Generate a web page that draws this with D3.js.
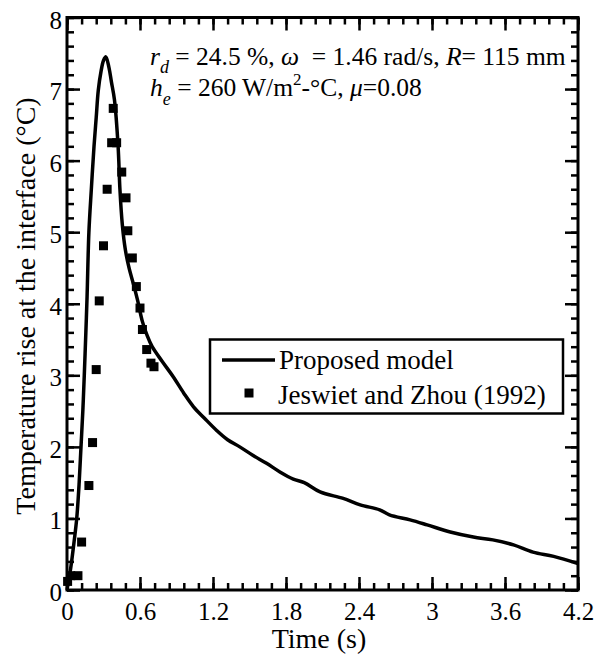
<!DOCTYPE html>
<html>
<head>
<meta charset="utf-8">
<script src="https://cdn.jsdelivr.net/npm/d3@7"></script>
<style>
  body { margin: 0; background: #fff; }
  svg text { font-family: "Liberation Serif", "Times New Roman", serif; fill: #000; white-space: pre; }
</style>
</head>
<body>
<svg id="chart" width="599" height="661"></svg>
<script>
// Proposed model curve (time in s, temperature rise in degC)
const modelTime = [0, 0.03, 0.06, 0.08, 0.10, 0.115, 0.13, 0.142, 0.155, 0.165, 0.18, 0.20, 0.222, 0.24, 0.257, 0.28, 0.30, 0.32,
    0.345, 0.365, 0.39, 0.42, 0.435, 0.455, 0.48, 0.51, 0.55, 0.58, 0.62, 0.66, 0.70, 0.78, 0.873, 0.96, 1.04, 1.13, 1.23,
    1.32, 1.42, 1.53, 1.64, 1.75, 1.86, 1.95, 2.08, 2.27, 2.41, 2.57, 2.65, 2.82, 2.96, 3.15, 3.34, 3.5, 3.67, 3.83, 4.0, 4.2];
const modelTemp = [0, 0.3, 0.7, 1.0, 1.5, 2.0, 2.5, 3.0, 3.6, 4.1, 5.0, 5.6, 6.2, 6.6, 6.98, 7.25, 7.4, 7.45,
    7.3, 7.1, 6.85, 6.2, 5.6, 5.1, 4.75, 4.5, 4.25, 4.05, 3.75, 3.55, 3.4, 3.2, 2.98, 2.75, 2.56, 2.4, 2.23,
    2.1, 2.0, 1.88, 1.77, 1.65, 1.55, 1.5, 1.37, 1.28, 1.19, 1.12, 1.05, 0.98, 0.91, 0.81, 0.74, 0.70, 0.63, 0.53, 0.47, 0.37];

// Jeswiet and Zhou (1992) measurements
const expTime = [0.005, 0.03, 0.09, 0.12, 0.18, 0.21, 0.24, 0.265, 0.30, 0.33, 0.367, 0.38, 0.408, 0.45, 0.485, 0.50,
    0.537, 0.57, 0.60, 0.62, 0.655, 0.69, 0.715];
const expTemp = [0.12, 0.2, 0.2, 0.67, 1.46, 2.06, 3.08, 4.04, 4.81, 5.6, 6.25, 6.73, 6.25, 5.84, 5.48, 5.02,
    4.64, 4.24, 3.94, 3.64, 3.36, 3.17, 3.12];

const xTicks = [0, 0.6, 1.2, 1.8, 2.4, 3, 3.6, 4.2];
const yTicks = [0, 1, 2, 3, 4, 5, 6, 7, 8];

const svg = d3.select('#chart');

const plotLeft = 67, plotRight = 578, plotTop = 17.5, plotBottom = 590;

const x = d3.scaleLinear().domain([0, 4.2]).range([plotLeft, plotRight]);
const y = d3.scaleLinear().domain([0, 8]).range([plotBottom, plotTop]);

const xMinor = d3.range(0, 36).map(i => i * 0.12);
const yMinor = d3.range(0, 41).map(i => i * 0.2);

const major = 13, minor = 7;

function styleAxis(g) {
    g.select('.domain').remove();
    g.selectAll('.tick line').attr('stroke', '#000').attr('stroke-width', 2.5);
}

// bottom
svg.append('g').attr('transform', `translate(0,${plotBottom})`)
    .call(d3.axisBottom(x).tickValues(xMinor).tickSize(-minor).tickFormat(''))
    .call(styleAxis);
svg.append('g').attr('transform', `translate(0,${plotBottom})`)
    .call(d3.axisBottom(x).tickValues(xTicks).tickSize(-major).tickPadding(12).tickFormat(d => String(d)))
    .call(styleAxis)
    .selectAll('text').attr('font-size', 25).attr('font-family', '"Liberation Serif", serif');
// top
svg.append('g').attr('transform', `translate(0,${plotTop})`)
    .call(d3.axisTop(x).tickValues(xMinor).tickSize(-minor).tickFormat(''))
    .call(styleAxis);
svg.append('g').attr('transform', `translate(0,${plotTop})`)
    .call(d3.axisTop(x).tickValues(xTicks).tickSize(-major).tickFormat(''))
    .call(styleAxis);
// left
svg.append('g').attr('transform', `translate(${plotLeft},0)`)
    .call(d3.axisLeft(y).tickValues(yMinor).tickSize(-minor).tickFormat(''))
    .call(styleAxis);
svg.append('g').attr('transform', `translate(${plotLeft},0)`)
    .call(d3.axisLeft(y).tickValues(yTicks).tickSize(-major).tickPadding(5).tickFormat(d => String(d)))
    .call(styleAxis)
    .selectAll('text').attr('font-size', 25).attr('dy', '0.42em').attr('font-family', '"Liberation Serif", serif');
// right
svg.append('g').attr('transform', `translate(${plotRight},0)`)
    .call(d3.axisRight(y).tickValues(yMinor).tickSize(-minor).tickFormat(''))
    .call(styleAxis);
svg.append('g').attr('transform', `translate(${plotRight},0)`)
    .call(d3.axisRight(y).tickValues(yTicks).tickSize(-major).tickFormat(''))
    .call(styleAxis);

// frame
svg.append('rect')
    .attr('x', plotLeft).attr('y', plotTop)
    .attr('width', plotRight - plotLeft).attr('height', plotBottom - plotTop)
    .attr('fill', 'none').attr('stroke', '#000').attr('stroke-width', 3);

// model line
const modelData = modelTime.map((t, i) => [t, modelTemp[i]]);
svg.append('path')
    .datum(modelData)
    .attr('fill', 'none')
    .attr('stroke', '#000')
    .attr('stroke-width', 3.5)
    .attr('stroke-linejoin', 'round')
    .attr('d', d3.line().x(d => x(d[0])).y(d => y(d[1])).curve(d3.curveCatmullRom.alpha(0.5)));

// measured points
const sq = 9;
svg.selectAll('.pt')
    .data(expTime.map((t, i) => [t, expTemp[i]]))
    .enter().append('rect')
    .attr('x', d => x(d[0]) - sq / 2)
    .attr('y', d => y(d[1]) - sq / 2)
    .attr('width', sq).attr('height', sq)
    .attr('fill', '#000');

// axis titles
svg.append('text')
    .attr('x', 319).attr('y', 648)
    .attr('text-anchor', 'middle')
    .attr('font-size', 28)
    .text('Time (s)');
svg.append('text')
    .attr('transform', 'translate(35,306) rotate(-90)')
    .attr('text-anchor', 'middle')
    .attr('font-size', 28)
    .text('Temperature rise at the interface (°C)');

// annotation
const ann1 = svg.append('text').attr('x', 150).attr('y', 65).attr('font-size', 25.5);
ann1.append('tspan').attr('font-style', 'italic').text('r');
ann1.append('tspan').attr('font-style', 'italic').attr('font-size', 18).attr('dy', 8).text('d');
ann1.append('tspan').attr('dy', -8).text(' = 24.5 %, ');
ann1.append('tspan').attr('font-style', 'italic').text('ω');
ann1.append('tspan').text('  = 1.46 rad/s, ');
ann1.append('tspan').attr('font-style', 'italic').text('R');
ann1.append('tspan').text('= 115 mm');

const ann2 = svg.append('text').attr('x', 150).attr('y', 96).attr('font-size', 25.5);
ann2.append('tspan').attr('font-style', 'italic').text('h');
ann2.append('tspan').attr('font-style', 'italic').attr('font-size', 18).attr('dy', 9).text('e');
ann2.append('tspan').attr('dy', -9).text(' = 260 W/m');
ann2.append('tspan').attr('font-size', 17).attr('dy', -11).text('2');
ann2.append('tspan').attr('dy', 11).text('-°C, ');
ann2.append('tspan').attr('font-style', 'italic').text('μ');
ann2.append('tspan').text('=0.08');

// legend
const lg = svg.append('g');
lg.append('rect')
    .attr('x', 210).attr('y', 339.5).attr('width', 353).attr('height', 74)
    .attr('fill', '#fff').attr('stroke', '#000').attr('stroke-width', 2.5);
lg.append('line')
    .attr('x1', 222).attr('x2', 275).attr('y1', 360).attr('y2', 360)
    .attr('stroke', '#000').attr('stroke-width', 3.5);
lg.append('rect')
    .attr('x', 249 - 4.5).attr('y', 393 - 4.5).attr('width', 9).attr('height', 9)
    .attr('fill', '#000');
lg.append('text').attr('x', 279).attr('y', 369).attr('font-size', 27).text('Proposed model');
lg.append('text').attr('x', 278).attr('y', 404).attr('font-size', 27).text('Jeswiet and Zhou (1992)');
</script>
</body>
</html>
